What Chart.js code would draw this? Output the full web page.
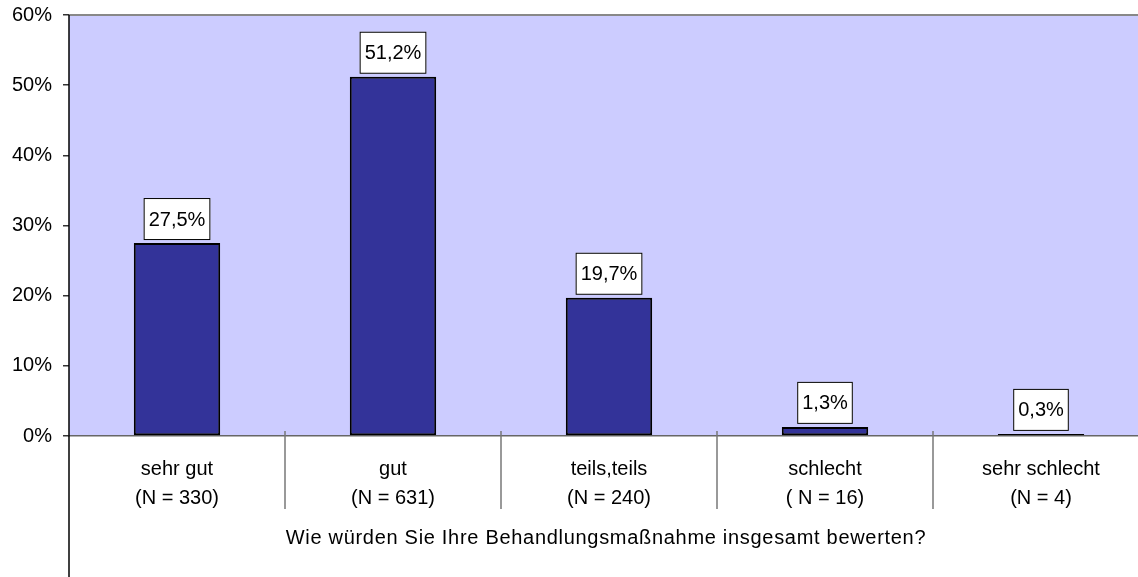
<!DOCTYPE html>
<html lang="de">
<head>
  <meta charset="UTF-8">
  <title>Bewertung der Behandlungsmaßnahme</title>
  <script src="https://cdn.jsdelivr.net/npm/chart.js"></script>
  <style>
    body { margin: 0; background: #fff; }
    #wrap { width: 1138px; height: 577px; overflow: hidden; }
  </style>
</head>
<body>
  <!-- plot area runs a little past the right edge, as in the original -->
  <div id="wrap"><canvas id="chart" width="1149" height="577"></canvas></div>

  <script>
    const categories = ["sehr gut", "gut", "teils,teils", "schlecht", "sehr schlecht"];
    const counts = ["(N = 330)", "(N = 631)", "(N = 240)", "( N = 16)", "(N = 4)"];
    const percents = [27.5, 51.2, 19.7, 1.3, 0.3];
    const yTicks = [0, 10, 20, 30, 40, 50, 60];
    const axisTitle = "Wie würden Sie Ihre Behandlungsmaßnahme insgesamt bewerten?";

    const FONT = "'Liberation Sans', Arial, sans-serif";

    // lavender plot area, borders, separators below the axis
    const frame = {
      id: 'frame',
      beforeDraw(chart) {
        const { ctx, chartArea: a } = chart;
        ctx.save();
        ctx.fillStyle = '#ccccff';
        ctx.fillRect(a.left, a.top, a.right - a.left, a.bottom - a.top);
        ctx.restore();
      },
      afterDraw(chart) {
        const { ctx, chartArea: a } = chart;
        const xs = chart.scales.x;
        ctx.save();
        // top border
        ctx.strokeStyle = '#888888';
        ctx.lineWidth = 2;
        ctx.beginPath();
        ctx.moveTo(a.left, a.top);
        ctx.lineTo(chart.width, a.top);
        ctx.stroke();
        // separators between categories
        ctx.strokeStyle = '#777777';
        ctx.lineWidth = 1.5;
        for (let i = 0; i < categories.length - 1; i++) {
          const x = (xs.getPixelForValue(i) + xs.getPixelForValue(i + 1)) / 2;
          ctx.beginPath();
          ctx.moveTo(x, a.bottom - 5);
          ctx.lineTo(x, a.bottom + 73);
          ctx.stroke();
        }
        // left axis running down to the bottom
        ctx.strokeStyle = '#000';
        ctx.lineWidth = 1.5;
        ctx.beginPath();
        ctx.moveTo(a.left, a.top);
        ctx.lineTo(a.left, chart.height);
        ctx.stroke();
        // axis title
        ctx.fillStyle = '#000';
        ctx.font = '20px ' + FONT;
        ctx.letterSpacing = '0.7px';
        ctx.textAlign = 'center';
        ctx.textBaseline = 'middle';
        ctx.fillText(axisTitle, 606, 538);
        ctx.restore();
      }
    };

    // boxed value labels above the bars
    const valueBoxes = {
      id: 'valueBoxes',
      afterDatasetsDraw(chart) {
        const { ctx } = chart;
        const meta = chart.getDatasetMeta(0);
        ctx.save();
        ctx.font = '20px ' + FONT;
        ctx.textAlign = 'center';
        ctx.textBaseline = 'middle';
        meta.data.forEach((bar, i) => {
          const txt = percents[i].toFixed(1).replace('.', ',') + '%';
          const w = ctx.measureText(txt).width + 10;
          const h = 42;
          const bottom = bar.y - 3;
          const left = bar.x - w / 2;
          ctx.fillStyle = '#fff';
          ctx.fillRect(left, bottom - h, w, h);
          ctx.strokeStyle = '#000';
          ctx.lineWidth = 1;
          ctx.strokeRect(left + 0.5, bottom - h + 0.5, w - 1, h - 1);
          ctx.fillStyle = '#000';
          ctx.fillText(txt, bar.x, bottom - h / 2 + 1);
        });
        ctx.restore();
      }
    };

    new Chart(document.getElementById('chart'), {
      type: 'bar',
      data: {
        labels: categories.map((c, i) => [c, counts[i]]),
        datasets: [{
          data: percents,
          backgroundColor: '#333399',
          borderColor: '#000',
          borderWidth: 2,
          borderSkipped: false,
          barPercentage: 0.4,
          categoryPercentage: 1
        }]
      },
      options: {
        responsive: false,
        animation: false,
        layout: { padding: { top: 15, right: 0, left: 0, bottom: 0 } },
        plugins: {
          legend: { display: false },
          tooltip: { enabled: false }
        },
        scales: {
          x: {
            grid: { display: false, drawTicks: false },
            border: { display: true, color: '#666666', width: 1.5 },
            ticks: {
              color: '#000',
              font: { family: FONT, size: 20, lineHeight: 1.45 },
              padding: 19,
              maxRotation: 0,
              autoSkip: false
            },
            afterFit(s) { s.height = 141; }
          },
          y: {
            min: 0,
            max: 60,
            afterBuildTicks(s) { s.ticks = yTicks.map(v => ({ value: v })); },
            grid: { drawOnChartArea: false, drawTicks: true, tickLength: 6, color: '#333', lineWidth: 1.5 },
            border: { display: false },
            ticks: {
              color: '#000',
              font: { family: FONT, size: 20 },
              padding: 11,
              callback: v => v + '%'
            },
            afterFit(s) {
              s.width = 69;
              s.paddingTop = 0;
              s.paddingBottom = 0;
            }
          }
        }
      },
      plugins: [frame, valueBoxes]
    });
  </script>
</body>
</html>
